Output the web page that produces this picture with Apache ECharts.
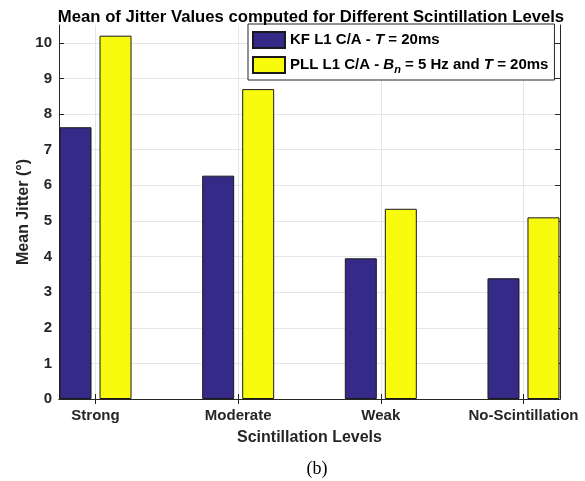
<!DOCTYPE html>
<html>
<head>
<meta charset="utf-8">
<script src="https://cdn.jsdelivr.net/npm/echarts@6/dist/echarts.min.js"></script>
<style>
  html, body { margin: 0; padding: 0; background: #fff; }
  #chart { width: 585px; height: 481px; }
</style>
</head>
<body>
<div id="chart"></div>
<script>
// scintillation levels on the x axis
const levels = ['Strong', 'Moderate', 'Weak', 'No-Scintillation'];
// mean jitter (deg)
const kfJitter = [7.63, 6.27, 3.95, 3.39];
const pllJitter = [10.2, 8.70, 5.34, 5.10];
const yTicks = [0, 1, 2, 3, 4, 5, 6, 7, 8, 9, 10];
const xTicks = [1, 2, 3, 4];

const axisColor = '#262626';
const font = 'Liberation Sans, Arial, Helvetica, sans-serif';

// bars sit on a value axis so the x limits can hug the outer bars like matlab does
const toPoints = (vals) => vals.map((v, i) => [i + 1, v]);

const chart = echarts.init(document.getElementById('chart'));

const xBase = {
  type: 'value',
  min: 0.744,
  max: 4.256,
  axisLine: { lineStyle: { color: axisColor, width: 1 } },
  axisTick: { inside: true, length: 5, customValues: xTicks, lineStyle: { color: axisColor } }
};
const yBase = {
  type: 'value',
  min: 0,
  max: 10.5,
  axisLine: { show: true, lineStyle: { color: axisColor, width: 1 } },
  axisTick: { show: true, inside: true, length: 5, customValues: yTicks, lineStyle: { color: axisColor } }
};

const option = {
  animation: false,
  textStyle: { fontFamily: font },
  title: [
    {
      text: 'Mean of Jitter Values computed for Different Scintillation Levels',
      left: 306,
      textAlign: 'center',
      top: 4,
      textStyle: { fontSize: 16.7, fontWeight: 'bold', color: '#000', fontFamily: font }
    },
    {
      text: '(b)',
      left: 312,
      textAlign: 'center',
      top: 455,
      textStyle: { fontSize: 18, fontWeight: 'normal', color: '#000', fontFamily: 'Liberation Serif, Times New Roman, serif' }
    }
  ],
  legend: {
    orient: 'vertical',
    left: 248,
    top: 24,
    icon: 'rect',
    itemWidth: 32,
    itemHeight: 16,
    itemGap: 7,
    padding: [7, 6, 5, 4],
    backgroundColor: '#fff',
    borderColor: axisColor,
    borderWidth: 1,
    formatter: function (name) {
      if (name === 'kf') return '{b|KF L1 C/A - }{i|T}{b| = 20ms}';
      return '{b|PLL L1 C/A - }{i|B}{s|n}{b| = 5 Hz and }{i|T}{b| = 20ms}';
    },
    textStyle: {
      rich: {
        b: { fontSize: 15, fontWeight: 'bold', color: '#000', fontFamily: font },
        i: { fontSize: 15, fontWeight: 'bold', fontStyle: 'italic', color: '#000', fontFamily: font },
        s: { fontSize: 11, fontWeight: 'bold', fontStyle: 'italic', color: '#000', fontFamily: font, padding: [9, 0, 0, 0] }
      }
    },
    data: ['kf', 'pll']
  },
  grid: { left: 59, right: 25, top: 25, bottom: 82 },
  xAxis: [
    Object.assign({}, xBase, {
      position: 'bottom',
      name: 'Scintillation Levels',
      nameLocation: 'middle',
      nameGap: 31,
      nameTextStyle: { fontSize: 16, fontWeight: 'bold', color: axisColor },
      axisLabel: {
        customValues: xTicks,
        margin: 9,
        fontSize: 15,
        fontWeight: 'bold',
        color: axisColor,
        formatter: (v) => levels[Math.round(v) - 1]
      },
      splitLine: { show: true, lineStyle: { color: '#e6e6e6' } }
    }),
    Object.assign({}, xBase, {
      position: 'top',
      axisLabel: { show: false },
      splitLine: { show: false }
    })
  ],
  yAxis: [
    Object.assign({}, yBase, {
      position: 'left',
      name: 'Mean Jitter (°)',
      nameLocation: 'middle',
      nameGap: 27,
      nameMoveOverlap: false,
      nameTextStyle: { fontSize: 16, fontWeight: 'bold', color: axisColor },
      axisLabel: { customValues: yTicks, margin: 7, fontSize: 15, fontWeight: 'bold', color: axisColor },
      splitLine: { show: true, lineStyle: { color: '#e6e6e6' } }
    }),
    Object.assign({}, yBase, {
      position: 'right',
      axisLabel: { show: false },
      splitLine: { show: false }
    })
  ],
  series: [
    {
      name: 'kf',
      type: 'bar',
      barWidth: 32,
      barGap: '25%',
      itemStyle: { color: '#352a87', borderColor: '#1a1a1a', borderWidth: 1 },
      data: toPoints(kfJitter)
    },
    {
      name: 'pll',
      type: 'bar',
      barWidth: 32,
      barGap: '25%',
      itemStyle: { color: '#f9fb0e', borderColor: '#1a1a1a', borderWidth: 1 },
      data: toPoints(pllJitter)
    }
  ]
};

chart.setOption(option);
</script>
</body>
</html>
